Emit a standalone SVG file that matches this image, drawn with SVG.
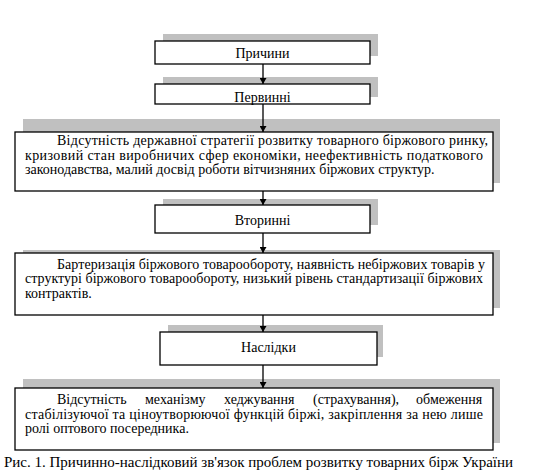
<svg xmlns="http://www.w3.org/2000/svg" width="542" height="475" viewBox="0 0 542 475">
<style>
.sh{fill:#c0c0c0;stroke:none}
.bx{fill:#fff;stroke:#000;stroke-width:1.3}
text{font-family:"Liberation Serif","Times New Roman",serif;fill:#000}
.t{font-size:14px}
.l{font-size:14px;text-anchor:middle}
.cap{font-size:15px}
.ln{stroke:#000;stroke-width:1.3;fill:none}
</style>
<defs>
<marker id="ah" markerWidth="6" markerHeight="7" refX="6" refY="3.5" orient="auto" markerUnits="userSpaceOnUse">
<path d="M0,0 L6,3.5 L0,7 Z" fill="#000"/>
</marker>
</defs>
<rect width="542" height="475" fill="#fff"/>
<g id="prychyny">
<rect class="sh" x="163" y="34" width="215" height="22"/>
<rect class="bx" x="155" y="41" width="215" height="23"/>
<text class="l" x="262.5" y="57.5">Причини</text>
</g>
<g id="pervynni">
<rect class="sh" x="163" y="77" width="215" height="20"/>
<rect class="bx" x="155" y="84" width="215" height="20"/>
<text class="l" x="262.5" y="101.5">Первинні</text>
</g>
<g id="pervynni-text">
<rect class="sh" x="23" y="119" width="477" height="64"/>
<rect class="bx" x="15" y="132" width="478" height="59"/>
<text class="t" x="57" y="145" textLength="431" lengthAdjust="spacing">Відсутність державної стратегії розвитку товарного біржового ринку,</text>
<text class="t" x="25" y="159.5" textLength="458" lengthAdjust="spacing">кризовий стан виробничих сфер економіки, неефективність податкового</text>
<text class="t" x="25" y="174">законодавства, малий досвід роботи вітчизняних біржових структур.</text>
</g>
<g id="vtorynni">
<rect class="sh" x="163" y="199" width="215" height="26"/>
<rect class="bx" x="155" y="205" width="215" height="28"/>
<text class="l" x="262.5" y="225">Вторинні</text>
</g>
<g id="vtorynni-text">
<rect class="sh" x="23" y="250" width="477" height="58"/>
<rect class="bx" x="15" y="253" width="478" height="62"/>
<text class="t" x="57" y="268.5" textLength="428" lengthAdjust="spacing">Бартеризація біржового товарообороту, наявність небіржових товарів у</text>
<text class="t" x="25" y="283" textLength="458" lengthAdjust="spacing">структурі біржового товарообороту, низький рівень стандартизації біржових</text>
<text class="t" x="25" y="297.5">контрактів.</text>
</g>
<g id="naslidky">
<rect class="sh" x="168" y="325" width="215" height="32"/>
<rect class="bx" x="160" y="332" width="217" height="33"/>
<text class="l" x="268.5" y="351.5">Наслідки</text>
</g>
<g id="naslidky-text">
<rect class="sh" x="23" y="379" width="477" height="64"/>
<rect class="bx" x="15" y="388" width="478" height="62"/>
<text class="t" y="404"><tspan x="57">Відсутність</tspan><tspan x="145">механізму</tspan><tspan x="224">хеджування</tspan><tspan x="313">(страхування),</tspan><tspan x="416">обмеження</tspan></text>
<text class="t" x="25" y="418.5" textLength="458" lengthAdjust="spacing">стабілізуючої та ціноутворюючої функцій біржі, закріплення за нею лише</text>
<text class="t" x="25" y="433">ролі оптового посередника.</text>
</g>
<g id="caption">
<text class="cap" x="4" y="467" textLength="509" lengthAdjust="spacing">Рис. 1. Причинно-наслідковий зв'язок проблем розвитку товарних бірж України</text>
</g>
<g id="connectors">
<line class="ln" x1="263" y1="64" x2="263" y2="84" marker-end="url(#ah)"/>
<line class="ln" x1="263" y1="104" x2="263" y2="132" marker-end="url(#ah)"/>
<line class="ln" x1="263" y1="191" x2="263" y2="205" marker-end="url(#ah)"/>
<line class="ln" x1="263" y1="233" x2="263" y2="253" marker-end="url(#ah)"/>
<line class="ln" x1="263" y1="315" x2="263" y2="332" marker-end="url(#ah)"/>
<line class="ln" x1="263" y1="365" x2="263" y2="388" marker-end="url(#ah)"/>
</g>
</svg>
